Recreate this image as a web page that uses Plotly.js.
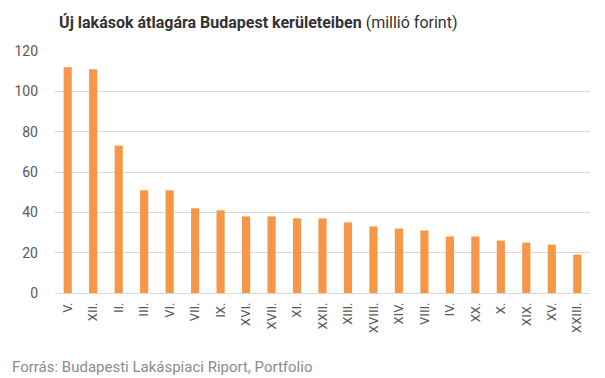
<!DOCTYPE html>
<html>
<head>
<meta charset="utf-8">
<script src="https://cdn.plot.ly/plotly-3.0.1.min.js"></script>
<style>html,body{margin:0;padding:0;background:#fff;}#chart{width:605px;height:378px;}</style>
</head>
<body>
<div id="chart"></div>
<script>
const districts = ["V.","XII.","II.","III.","VI.","VII.","IX.","XVI.","XVII.","XI.","XXII.","XIII.","XVIII.","XIV.","VIII.","IV.","XX.","X.","XIX.","XV.","XXIII."];
const prices = [112,111,73,51,51,42,41,38,38,37,37,35,33,32,31,28,28,26,25,24,19];
const yTicks = [0,20,40,60,80,100,120];

const trace = {
  type: 'bar',
  x: districts,
  y: prices,
  marker: {color: '#F79646'},
  hoverinfo: 'x+y'
};

const layout = {
  width: 605, height: 378,
  margin: {l: 55, r: 15, t: 51, b: 85},
  paper_bgcolor: '#fff', plot_bgcolor: '#fff',
  bargap: 0.68,
  showlegend: false,
  font: {family: 'Roboto, sans-serif', color: '#595959'},
  title: {
    text: '<b>Új lakások átlagára Budapest kerületeiben</b> (millió forint)',
    xref: 'paper', x: 0.38, xanchor: 'center', y: 0.94, yanchor: 'middle',
    font: {family: 'Roboto, sans-serif', size: 16, color: '#333'}
  },
  xaxis: {
    type: 'category',
    tickangle: -90,
    tickfont: {size: 13, color: '#595959'},
    showgrid: false, showline: false, zeroline: false,
    ticks: '', ticklabelstandoff: 6
  },
  yaxis: {
    range: [0, 120],
    tickvals: yTicks,
    ticktext: yTicks.map(String),
    tickfont: {size: 14, color: '#595959'},
    showgrid: true, gridcolor: '#d9d9d9', gridwidth: 1,
    zeroline: true, zerolinecolor: '#d9d9d9', zerolinewidth: 1,
    showline: false, ticks: '', ticklabelstandoff: 16
  },
  annotations: [{
    text: 'Forrás: Budapesti Lakáspiaci Riport, Portfolio',
    xref: 'paper', yref: 'paper', x: -0.085, y: -0.306,
    xanchor: 'left', yanchor: 'middle', showarrow: false,
    font: {family: 'Roboto, sans-serif', size: 15, color: '#8c8c8c'}
  }]
};

Plotly.newPlot('chart', [trace], layout, {displayModeBar: false, staticPlot: true});
</script>
</body>
</html>
